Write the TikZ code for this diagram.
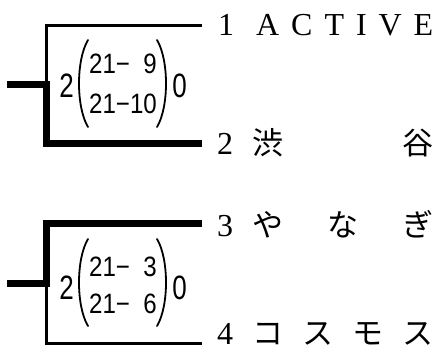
\documentclass[tikz,border=0pt]{standalone}
\usepackage{graphicx}
\usepackage{fontspec}
\setmainfont{Liberation Serif}
\newfontfamily\cjk{Noto Sans CJK JP}
\newfontfamily\gothic{Liberation Sans}
\newfontfamily\gothicn[FakeStretch=0.86]{Liberation Sans}
\tikzset{
  thinline/.style={line width=3pt, line join=miter},
  thickline/.style={line width=7pt, line join=miter},
  paren/.style={line width=1.8pt, line cap=round},
  outer/.style={anchor=base, inner sep=0pt, font=\gothic\fontsize{26}{26}\selectfont},
  entry/.style={anchor=base west, inner sep=0pt, font=\gothicn\fontsize{28}{28}\selectfont},
  num/.style={anchor=base, inner sep=0pt, font=\fontsize{32}{32}\selectfont},
  latname/.style={anchor=base west, inner sep=0pt, font=\fontsize{32}{32}\selectfont},
  cjkname/.style={anchor=base west, inner sep=0pt, font=\cjk\fontsize{31}{31}\selectfont},
}
\begin{document}
\begin{tikzpicture}[x=1pt,y=-1pt]
\useasboundingbox (0,0) rectangle (438,351);
% match 1 corners
\coordinate (a0) at (7,84);
\coordinate (a1) at (46,84);
\coordinate (a2) at (46,25);
\coordinate (t1) at (202,25);
\coordinate (a3) at (46,143.5);
\coordinate (t2) at (202,143.5);
% match 2 corners
\coordinate (b0) at (7,283);
\coordinate (b1) at (46,283);
\coordinate (b2) at (46,223);
\coordinate (t3) at (202,223);
\coordinate (b3) at (46,343);
\coordinate (t4) at (202,343);
% bracket lines
\draw[thinline] (a1) -- (a2) -- (t1);
\draw[thickline] (a0) -- (a1) -- (a3) -- (t2);
\draw[thinline] (b1) -- (b3) -- (t4);
\draw[thickline] (b0) -- (b1) -- (b2) -- (t3);
% score match 1
\node[outer] (s1l) at (66.5,97) {\scalebox{1}[1.3]{2}};
\node[outer] (s1r) at (179.5,97) {\scalebox{1}[1.3]{0}};
\node[entry] (g1a) at (89,73) {21−\hphantom{1}9};
\node[entry] (g1b) at (89,113) {21−10};
\draw[paren] (88,40) .. controls (76,60) and (76,107) .. (88,127);
\draw[paren] (157,40) .. controls (169,60) and (169,107) .. (157,127);
% score match 2
\node[outer] (s2l) at (66.5,299) {\scalebox{1}[1.3]{2}};
\node[outer] (s2r) at (179.5,299) {\scalebox{1}[1.3]{0}};
\node[entry] (g2a) at (89,276) {21−\hphantom{1}3};
\node[entry] (g2b) at (89,313) {21−\hphantom{1}6};
\draw[paren] (88,239) .. controls (76,259) and (76,306) .. (88,326);
\draw[paren] (157,239) .. controls (169,259) and (169,306) .. (157,326);
% team labels
\node[num] (n1) at (226,35) {1};
\node[latname] (name1) at (256,35) {\hbox to 177pt{A\hfil C\hfil T\hfil I\hfil V\hfil E}};
\node[num] (n2) at (225,154) {2};
\node[cjkname] (name2) at (252,154) {\hbox to 181pt{渋\hfil 谷}};
\node[num] (n3) at (225,236) {3};
\node[cjkname] (name3) at (252,236) {\hbox to 181pt{や\hfil な\hfil ぎ}};
\node[num] (n4) at (225,344) {4};
\node[cjkname] (name4) at (252,344) {\hbox to 181pt{コ\hfil ス\hfil モ\hfil ス}};
\end{tikzpicture}
\end{document}
